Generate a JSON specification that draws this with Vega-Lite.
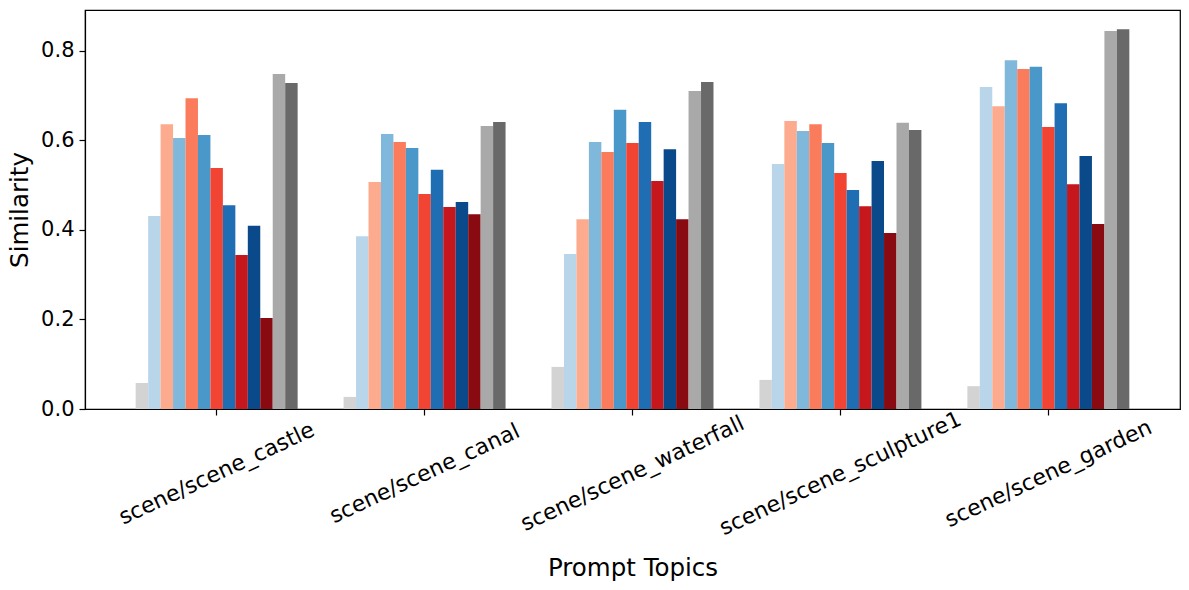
{
  "$schema": "https://vega.github.io/schema/vega-lite/v6.json",
  "width": 1095,
  "height": 399,
  "autosize": {"type": "none"},
  "padding": {"left": 85, "top": 10, "right": 9, "bottom": 181},
  "config": {
    "font": "DejaVu Sans",
    "view": {"stroke": "black", "strokeWidth": 1.2},
    "axis": {"grid": false, "domainColor": "black", "tickColor": "black", "labelColor": "black", "titleColor": "black", "titleFontWeight": "normal", "tickWidth": 1.2, "domainWidth": 1.2}
  },
  "data": {"values": [
    {"topic": "scene/scene_castle", "series": "s01", "value": 0.058},
    {"topic": "scene/scene_castle", "series": "s02", "value": 0.431},
    {"topic": "scene/scene_castle", "series": "s03", "value": 0.636},
    {"topic": "scene/scene_castle", "series": "s04", "value": 0.605},
    {"topic": "scene/scene_castle", "series": "s05", "value": 0.694},
    {"topic": "scene/scene_castle", "series": "s06", "value": 0.612},
    {"topic": "scene/scene_castle", "series": "s07", "value": 0.538},
    {"topic": "scene/scene_castle", "series": "s08", "value": 0.455},
    {"topic": "scene/scene_castle", "series": "s09", "value": 0.344},
    {"topic": "scene/scene_castle", "series": "s10", "value": 0.409},
    {"topic": "scene/scene_castle", "series": "s11", "value": 0.203},
    {"topic": "scene/scene_castle", "series": "s12", "value": 0.748},
    {"topic": "scene/scene_castle", "series": "s13", "value": 0.728},
    {"topic": "scene/scene_canal", "series": "s01", "value": 0.027},
    {"topic": "scene/scene_canal", "series": "s02", "value": 0.386},
    {"topic": "scene/scene_canal", "series": "s03", "value": 0.507},
    {"topic": "scene/scene_canal", "series": "s04", "value": 0.614},
    {"topic": "scene/scene_canal", "series": "s05", "value": 0.596},
    {"topic": "scene/scene_canal", "series": "s06", "value": 0.583},
    {"topic": "scene/scene_canal", "series": "s07", "value": 0.480},
    {"topic": "scene/scene_canal", "series": "s08", "value": 0.534},
    {"topic": "scene/scene_canal", "series": "s09", "value": 0.451},
    {"topic": "scene/scene_canal", "series": "s10", "value": 0.462},
    {"topic": "scene/scene_canal", "series": "s11", "value": 0.435},
    {"topic": "scene/scene_canal", "series": "s12", "value": 0.632},
    {"topic": "scene/scene_canal", "series": "s13", "value": 0.641},
    {"topic": "scene/scene_waterfall", "series": "s01", "value": 0.094},
    {"topic": "scene/scene_waterfall", "series": "s02", "value": 0.346},
    {"topic": "scene/scene_waterfall", "series": "s03", "value": 0.424},
    {"topic": "scene/scene_waterfall", "series": "s04", "value": 0.596},
    {"topic": "scene/scene_waterfall", "series": "s05", "value": 0.574},
    {"topic": "scene/scene_waterfall", "series": "s06", "value": 0.668},
    {"topic": "scene/scene_waterfall", "series": "s07", "value": 0.594},
    {"topic": "scene/scene_waterfall", "series": "s08", "value": 0.641},
    {"topic": "scene/scene_waterfall", "series": "s09", "value": 0.509},
    {"topic": "scene/scene_waterfall", "series": "s10", "value": 0.580},
    {"topic": "scene/scene_waterfall", "series": "s11", "value": 0.424},
    {"topic": "scene/scene_waterfall", "series": "s12", "value": 0.710},
    {"topic": "scene/scene_waterfall", "series": "s13", "value": 0.730},
    {"topic": "scene/scene_sculpture1", "series": "s01", "value": 0.065},
    {"topic": "scene/scene_sculpture1", "series": "s02", "value": 0.547},
    {"topic": "scene/scene_sculpture1", "series": "s03", "value": 0.643},
    {"topic": "scene/scene_sculpture1", "series": "s04", "value": 0.621},
    {"topic": "scene/scene_sculpture1", "series": "s05", "value": 0.636},
    {"topic": "scene/scene_sculpture1", "series": "s06", "value": 0.594},
    {"topic": "scene/scene_sculpture1", "series": "s07", "value": 0.527},
    {"topic": "scene/scene_sculpture1", "series": "s08", "value": 0.489},
    {"topic": "scene/scene_sculpture1", "series": "s09", "value": 0.453},
    {"topic": "scene/scene_sculpture1", "series": "s10", "value": 0.554},
    {"topic": "scene/scene_sculpture1", "series": "s11", "value": 0.393},
    {"topic": "scene/scene_sculpture1", "series": "s12", "value": 0.639},
    {"topic": "scene/scene_sculpture1", "series": "s13", "value": 0.623},
    {"topic": "scene/scene_garden", "series": "s01", "value": 0.051},
    {"topic": "scene/scene_garden", "series": "s02", "value": 0.719},
    {"topic": "scene/scene_garden", "series": "s03", "value": 0.676},
    {"topic": "scene/scene_garden", "series": "s04", "value": 0.779},
    {"topic": "scene/scene_garden", "series": "s05", "value": 0.759},
    {"topic": "scene/scene_garden", "series": "s06", "value": 0.764},
    {"topic": "scene/scene_garden", "series": "s07", "value": 0.630},
    {"topic": "scene/scene_garden", "series": "s08", "value": 0.683},
    {"topic": "scene/scene_garden", "series": "s09", "value": 0.502},
    {"topic": "scene/scene_garden", "series": "s10", "value": 0.565},
    {"topic": "scene/scene_garden", "series": "s11", "value": 0.413},
    {"topic": "scene/scene_garden", "series": "s12", "value": 0.844},
    {"topic": "scene/scene_garden", "series": "s13", "value": 0.848}
  ]},
  "mark": {"type": "bar"},
  "encoding": {
    "x": {
      "field": "topic", "type": "nominal", "sort": null,
      "scale": {"paddingInner": 0.221, "paddingOuter": 0.2437},
      "axis": {
        "title": "Prompt Topics", "titleFontSize": 24.5, "titleBaseline": "alphabetic", "titleY": 166,
        "labelFontSize": 22, "labelAngle": -25, "labelAlign": "center", "labelBaseline": "middle",
        "labelPadding": 58, "tickSize": 6, "labelLimit": 0,
        "encoding": {"labels": {"update": {"dy": {"signal": "2.2*(length(datum.label)-18)"}}}}
      }
    },
    "xOffset": {"field": "series", "type": "nominal", "scale": {"paddingInner": 0, "paddingOuter": 0}},
    "y": {
      "field": "value", "type": "quantitative",
      "scale": {"domain": [0, 0.891], "nice": false},
      "axis": {
        "title": "Similarity", "titleFontSize": 24.5, "titlePadding": 8,
        "values": [0, 0.2, 0.4, 0.6, 0.8], "format": ".1f",
        "labelFontSize": 21, "tickSize": 6, "labelPadding": 5
      }
    },
    "color": {
      "field": "series", "type": "nominal", "legend": null,
      "scale": {
        "domain": ["s01","s02","s03","s04","s05","s06","s07","s08","s09","s10","s11","s12","s13"],
        "range": ["#d3d3d3","#b9d5ea","#fcab8f","#7fb8da","#fb7c5c","#4a98c9","#f14432","#1f6eb3","#c5171c","#0a4a8b","#8a0a12","#a9a9a9","#696969"]
      }
    }
  }
}
